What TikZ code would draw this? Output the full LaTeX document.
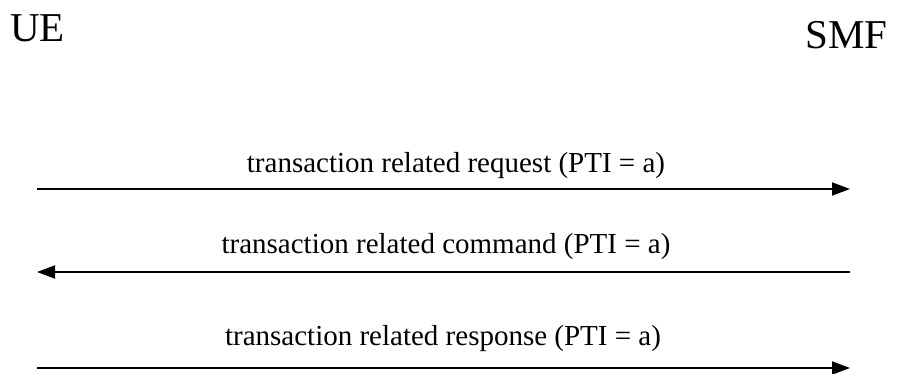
\documentclass[tikz,border=0pt]{standalone}
\usepackage{fontspec}
\setmainfont{Liberation Serif}
\usetikzlibrary{arrows.meta}

\tikzset{
	entity/.style={font=\fontsize{41}{41}\selectfont, inner sep=0pt},
	msglabel/.style={font=\fontsize{29}{29}\selectfont, inner sep=0pt, anchor=base},
	msg/.style={line width=2pt, -{Triangle[length=18pt,width=13pt]}}
}

\begin{document}
\begin{tikzpicture}[x=1pt,y=-1pt]
	\useasboundingbox (0,0) rectangle (898,374);

	\node[entity, anchor=base west] (ue) at (10,42) {UE};
	\node[entity, anchor=base east] (smf) at (888,49) {SMF};

	\coordinate (ue1) at (37,189);
	\coordinate (smf1) at (850,189);
	\coordinate (ue2) at (37,272);
	\coordinate (smf2) at (850,272);
	\coordinate (ue3) at (37,368);
	\coordinate (smf3) at (850,368);

	\node[msglabel] (req) at (456,173) {transaction related request (PTI = a)};
	\node[msglabel] (cmd) at (446,254) {transaction related command (PTI = a)};
	\node[msglabel] (rsp) at (443,345) {transaction related response (PTI = a)};

	\path [msg] (ue1) edge (smf1);
	\path [msg] (smf2) edge (ue2);
	\path [msg] (ue3) edge (smf3);
\end{tikzpicture}
\end{document}
